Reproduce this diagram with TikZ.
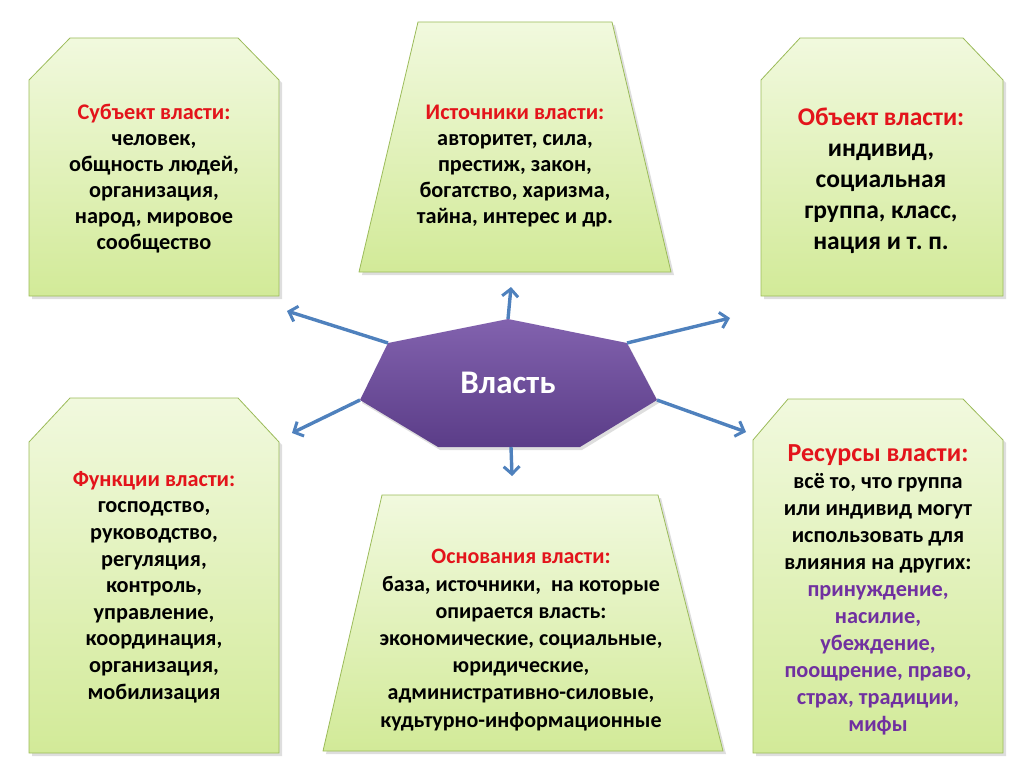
\documentclass[tikz,border=0pt]{standalone}
\usepackage{fontspec}
\setmainfont{Carlito}
\usetikzlibrary{arrows.meta}
\frenchspacing
\definecolor{titred}{HTML}{E3141B}
\definecolor{respurp}{HTML}{7030A0}
\definecolor{boxline}{HTML}{9BBB59}
\definecolor{boxtop}{HTML}{F1F9DE}
\definecolor{boxbot}{HTML}{D2EA98}
\definecolor{arrowblue}{HTML}{4F81BD}
\definecolor{ptop}{HTML}{8262AE}
\definecolor{pbot}{HTML}{5B3D88}
\tikzset{
  boxshape/.style={draw=boxline, line width=0.8pt, top color=boxtop, bottom color=boxbot},
  shadowshape/.style={fill=black, fill opacity=0.13, draw=none},
  boxtext/.style={align=center, font=\bfseries\fontsize{22.3}{26}\selectfont, inner sep=0pt},
  bigtext/.style={align=center, font=\bfseries\fontsize{25.5}{31}\selectfont, inner sep=0pt},
  linkarrow/.style={draw=arrowblue, line width=3.4pt, -{Straight Barb[length=7.5pt,width=16pt,line width=3pt]}},
}
\begin{document}
\begin{tikzpicture}[x=1pt,y=-1pt]
\useasboundingbox (0,0) rectangle (1024,767);
% shadows
\fill[shadowshape] (72,41) -- (240,41) -- (282,83) -- (282,299) -- (32,299) -- (32,83) -- cycle;
\fill[shadowshape] (421,25) -- (615,25) -- (674,275) -- (362,275) -- cycle;
\fill[shadowshape] (803,41) -- (966,41) -- (1006,83) -- (1006,299) -- (764,299) -- (764,83) -- cycle;
\fill[shadowshape] (72,401) -- (240,401) -- (282,445) -- (282,756) -- (32,756) -- (32,445) -- cycle;
\fill[shadowshape] (385,498) -- (661,498) -- (726,754) -- (326,754) -- cycle;
\fill[shadowshape] (791,402) -- (966,402) -- (1006,443) -- (1006,756) -- (756,756) -- (756,443) -- cycle;
% boxes
\path[boxshape] (70,38) -- (238,38) -- (279,80) -- (279,296) -- (29,296) -- (29,80) -- cycle;
\path[boxshape] (418,22) -- (612,22) -- (671,272) -- (359,272) -- cycle;
\path[boxshape] (800,38) -- (963,38) -- (1003,80) -- (1003,296) -- (761,296) -- (761,80) -- cycle;
\path[boxshape] (70,398) -- (238,398) -- (279,442) -- (279,753) -- (29,753) -- (29,442) -- cycle;
\path[boxshape] (382,495) -- (658,495) -- (723,751) -- (323,751) -- cycle;
\path[boxshape] (788,399) -- (963,399) -- (1003,440) -- (1003,753) -- (753,753) -- (753,440) -- cycle;
% central heptagon
\coordinate (vt) at (508,319);
\coordinate (vur) at (627,343);
\coordinate (vr) at (657,400);
\coordinate (vlr) at (580,447);
\coordinate (vll) at (438,447);
\coordinate (vl) at (360,400);
\coordinate (vul) at (388,343);
\coordinate (vb) at (511,447);
\fill[black, opacity=0.13] (510,322) -- (629,346) -- (659,403) -- (582,450) -- (440,450) -- (362,403) -- (390,346) -- cycle;
\path[top color=ptop, bottom color=pbot] (vt) -- (vur) -- (vr) -- (vlr) -- (vll) -- (vl) -- (vul) -- cycle;
\node[text=white, font=\bfseries\fontsize{33}{36}\selectfont] (c) at (508,383) {Власть};
% arrow ends
\coordinate (eT) at (511,287);
\coordinate (eUL) at (287,311);
\coordinate (eUR) at (730,318);
\coordinate (eLL) at (292,433);
\coordinate (eLR) at (746,432);
\coordinate (eB) at (512,476);
\draw[linkarrow] (vt) -- (eT);
\draw[linkarrow] (vul) -- (eUL);
\draw[linkarrow] (vur) -- (eUR);
\draw[linkarrow] (vl) -- (eLL);
\draw[linkarrow] (vr) -- (eLR);
\draw[linkarrow] (vb) -- (eB);
% texts
\node[boxtext] (subj) at (154,179) {\textcolor{titred}{Субъект власти:}\\человек,\\общность людей,\\организация,\\народ, мировое\\сообщество};
\node[boxtext] (src) at (515,166) {\textcolor{titred}{Источники власти:}\\авторитет, сила,\\престиж, закон,\\богатство, харизма,\\тайна, интерес и др.};
\node[bigtext] (obj) at (881,181) {\textcolor{titred}{Объект власти:}\\индивид,\\социальная\\группа, класс,\\нация и т. п.};
\node[boxtext, font=\bfseries\fontsize{22.3}{26.6}\selectfont] (func) at (154,587) {\textcolor{titred}{Функции власти:}\\господство,\\руководство,\\регуляция,\\контроль,\\управление,\\координация,\\организация,\\мобилизация};
\node[boxtext, font=\bfseries\fontsize{22}{27.2}\selectfont] (osn) at (521,640) {\textcolor{titred}{Основания власти:}\\база, источники,\ \ на которые\\опирается власть:\\экономические, социальные,\\юридические,\\административно-силовые,\\кудьтурно-информационные};
\node[boxtext, font=\bfseries\fontsize{22.3}{27}\selectfont] (res) at (878,590) {{\fontsize{26}{27}\selectfont\textcolor{titred}{Ресурсы власти:}}\\всё то, что группа\\или индивид могут\\использовать для\\влияния на других:\\\textcolor{respurp}{принуждение,}\\\textcolor{respurp}{насилие,}\\\textcolor{respurp}{убеждение,}\\\textcolor{respurp}{поощрение, право,}\\\textcolor{respurp}{страх, традиции,}\\\textcolor{respurp}{мифы}};
\end{tikzpicture}
\end{document}
